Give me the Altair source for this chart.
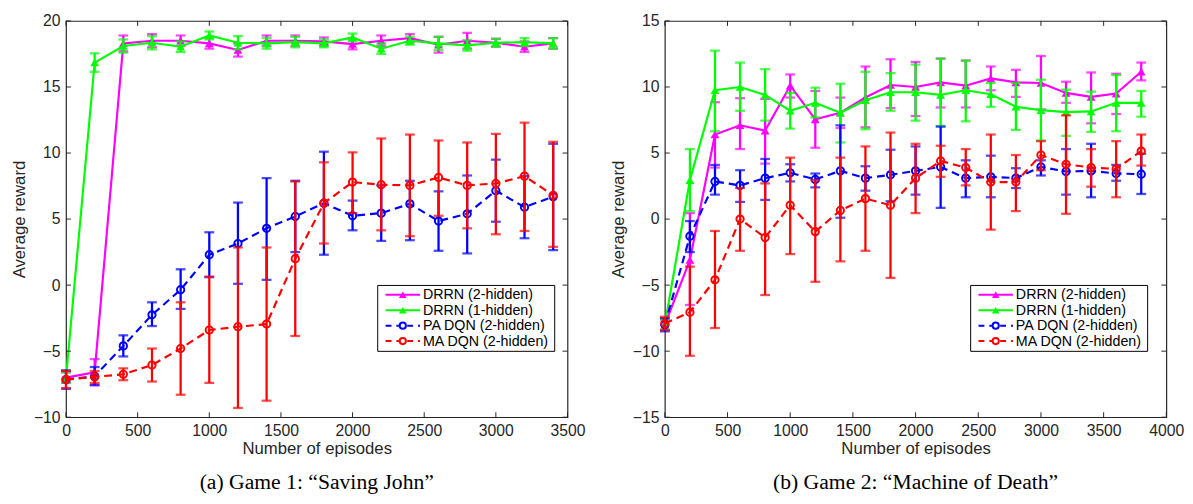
import altair as alt
import pandas as pd

# ---------------- Panel (a): Game 1 "Saving John" ----------------
xa = [0, 200, 400, 600, 800, 1000, 1200, 1400, 1600, 1800, 2000, 2200, 2400, 2600, 2800, 3000, 3200, 3400]

a_drrn2_m = [-7.0, -6.6, 18.3, 18.5, 18.5, 18.3, 17.8, 18.5, 18.5, 18.45, 18.25, 18.5, 18.7, 18.2, 18.5, 18.35, 18.05, 18.3]
a_drrn2_e = [0.4, 1.0, 0.6, 0.5, 0.4, 0.4, 0.5, 0.4, 0.4, 0.3, 0.4, 0.4, 0.3, 0.6, 0.6, 0.3, 0.4, 0.4]

a_drrn1_m = [-7.0, 16.85, 18.1, 18.35, 18.05, 18.9, 18.35, 18.3, 18.4, 18.3, 18.75, 17.9, 18.5, 18.3, 18.15, 18.35, 18.4, 18.3]
a_drrn1_e = [0.4, 0.7, 0.5, 0.5, 0.4, 0.3, 0.5, 0.4, 0.4, 0.3, 0.3, 0.4, 0.3, 0.5, 0.4, 0.3, 0.3, 0.4]

a_pa_m = [-7.15, -6.9, -4.6, -2.25, -0.35, 2.3, 3.15, 4.3, 5.2, 6.2, 5.25, 5.45, 6.15, 4.85, 5.4, 7.15, 5.9, 6.7]
a_pa_lo = [-7.85, -7.55, -5.4, -3.1, -1.8, 0.6, 0.1, 0.4, 2.5, 2.3, 4.15, 3.35, 3.4, 2.6, 2.4, 4.8, 3.55, 2.65]
a_pa_hi = [-6.45, -6.2, -3.8, -1.3, 1.2, 4.0, 6.25, 8.1, 7.9, 10.1, 6.4, 7.55, 7.9, 7.1, 8.3, 9.5, 8.25, 10.7]

a_ma_m = [-7.15, -6.95, -6.75, -6.05, -4.8, -3.4, -3.15, -2.95, 2.0, 6.2, 7.8, 7.6, 7.55, 8.15, 7.55, 7.7, 8.25, 6.8]
a_ma_lo = [-7.8, -7.4, -7.2, -7.3, -8.3, -7.4, -9.3, -8.75, -3.85, 3.15, 5.45, 4.15, 3.7, 5.25, 4.3, 3.85, 4.1, 2.9]
a_ma_hi = [-6.5, -6.5, -6.3, -4.8, -1.3, 0.65, 2.85, 2.85, 7.85, 9.3, 10.05, 11.1, 11.4, 10.95, 10.8, 11.45, 12.3, 10.85]

a_xticks = [0, 500, 1000, 1500, 2000, 2500, 3000, 3500]
a_yticks = [-10, -5, 0, 5, 10, 15, 20]

# ---------------- Panel (b): Game 2 "Machine of Death" ----------------
xb = [0, 200, 400, 600, 800, 1000, 1200, 1400, 1600, 1800, 2000, 2200, 2400, 2600, 2800, 3000, 3200, 3400, 3600, 3800]

b_drrn2_m = [-8.0, -3.1, 6.4, 7.1, 6.7, 10.1, 7.55, 8.05, 9.2, 10.15, 10.0, 10.35, 10.1, 10.65, 10.35, 10.3, 9.55, 9.25, 9.5, 11.15]
b_drrn2_lo = [-8.4, -6.5, 3.9, 5.3, 4.2, 9.2, 5.4, 6.9, 6.95, 8.4, 7.8, 8.45, 8.45, 9.75, 9.25, 8.3, 8.8, 7.25, 7.95, 10.5]
b_drrn2_hi = [-7.6, 0.45, 8.85, 9.15, 9.1, 10.95, 9.7, 9.2, 11.55, 12.1, 11.9, 12.15, 12.0, 11.55, 11.3, 12.35, 10.4, 11.1, 11.0, 11.85]

b_drrn1_m = [-8.0, 2.95, 9.75, 10.0, 9.4, 8.2, 8.8, 8.05, 9.0, 9.6, 9.6, 9.4, 9.75, 9.45, 8.5, 8.25, 8.1, 8.15, 8.8, 8.8]
b_drrn1_lo = [-8.4, 0.6, 6.65, 8.2, 7.45, 6.85, 7.7, 5.8, 6.8, 8.2, 7.45, 7.05, 7.4, 8.5, 6.75, 5.95, 6.3, 6.6, 6.65, 7.75]
b_drrn1_hi = [-7.6, 5.3, 12.75, 11.85, 11.35, 9.55, 9.95, 10.25, 11.15, 11.05, 11.7, 12.15, 12.0, 10.3, 10.3, 10.55, 9.8, 9.65, 10.9, 9.7]

b_pa_m = [-8.0, -1.3, 2.85, 2.55, 3.1, 3.5, 3.0, 3.65, 3.1, 3.35, 3.65, 3.95, 3.1, 3.2, 3.1, 3.95, 3.6, 3.65, 3.45, 3.4]
b_pa_lo = [-8.5, -2.5, 1.85, 1.3, 1.45, 2.85, 2.4, 0.1, 2.15, 1.35, 1.85, 0.85, 1.65, 1.65, 2.35, 3.3, 1.85, 1.65, 2.9, 1.9]
b_pa_hi = [-7.5, -0.15, 4.1, 3.7, 4.55, 4.15, 3.45, 7.1, 4.0, 5.25, 5.5, 7.0, 4.45, 4.8, 3.85, 4.45, 5.3, 5.7, 4.1, 4.95]

b_ma_m = [-7.9, -7.05, -4.6, 0.0, -1.4, 1.05, -0.95, 0.65, 1.55, 1.05, 3.1, 4.4, 3.9, 2.8, 2.8, 4.85, 4.15, 3.9, 3.8, 5.15]
b_ma_lo = [-8.4, -10.35, -8.25, -2.4, -5.75, -2.65, -4.75, -3.2, -2.4, -4.45, 0.45, 3.2, 2.55, -0.8, 0.6, 3.7, 0.4, 2.45, 1.65, 4.05]
b_ma_hi = [-7.4, -3.6, -0.9, 2.35, 2.7, 4.65, 2.95, 4.65, 5.5, 6.55, 5.7, 5.55, 5.3, 6.4, 4.85, 5.9, 7.85, 5.3, 5.9, 6.4]

b_xticks = [0, 500, 1000, 1500, 2000, 2500, 3000, 3500, 4000]
b_yticks = [-15, -10, -5, 0, 5, 10, 15]

names = ["DRRN (2-hidden)", "DRRN (1-hidden)", "PA DQN (2-hidden)", "MA DQN (2-hidden)"]
colors = ["#FF00FF", "#00FF00", "#0000FF", "#FF0000"]
dashes = [None, None, [8, 5], [8, 5]]
shapes = ["triangle-up", "triangle-up", "circle", "circle"]

W, H = 510, 403
FONT = "Liberation Sans"
AXC = "#262626"


def panel(x, series, xdom, ydom, xticks, yticks, caption, leg_x, leg_y):
    xs = alt.Scale(domain=xdom, nice=False, zero=False)
    ys = alt.Scale(domain=ydom, nice=False, zero=False)
    xax = alt.Axis(values=xticks, title="Number of episodes", format="d", labelFlush=False)
    yax = alt.Axis(values=yticks, title="Average reward", format="d")
    layers = []
    for i, (m, lo, hi) in enumerate(series):
        df = pd.DataFrame({"x": x, "m": m, "lo": lo, "hi": hi})
        base = alt.Chart(df)
        X = alt.X("x:Q", scale=xs, axis=xax)
        col = colors[i]
        layers.append(base.mark_rule(color=col, strokeWidth=2.3).encode(
            x=X, y=alt.Y("lo:Q", scale=ys, axis=yax), y2="hi:Q"))
        for f in ("lo", "hi"):
            layers.append(base.mark_tick(color=col, orient="horizontal", size=10, thickness=2.3).encode(
                x=X, y=alt.Y(f + ":Q", scale=ys, axis=yax)))
        lkw = dict(color=col, strokeWidth=2.2)
        if dashes[i]:
            lkw["strokeDash"] = dashes[i]
        layers.append(base.mark_line(**lkw).encode(x=X, y=alt.Y("m:Q", scale=ys, axis=yax)))
        if shapes[i] == "triangle-up":
            pm = base.mark_point(shape="triangle-up", filled=True, size=80, color=col, opacity=1)
        else:
            pm = base.mark_point(shape="circle", filled=False, size=55, strokeWidth=2, color=col, opacity=1)
        layers.append(pm.encode(x=X, y=alt.Y("m:Q", scale=ys, axis=yax)))

    # inward ticks on all four sides
    tx = alt.Chart(pd.DataFrame({"t": xticks}))
    ty = alt.Chart(pd.DataFrame({"t": yticks}))
    tk = dict(color=AXC, strokeWidth=1)
    layers.append(tx.mark_rule(**tk).encode(x=alt.X("t:Q", scale=xs, axis=xax), y=alt.value(H), y2=alt.value(H - 5)))
    layers.append(tx.mark_rule(**tk).encode(x=alt.X("t:Q", scale=xs, axis=xax), y=alt.value(0), y2=alt.value(5)))
    layers.append(ty.mark_rule(**tk).encode(y=alt.Y("t:Q", scale=ys, axis=yax), x=alt.value(0), x2=alt.value(5)))
    layers.append(ty.mark_rule(**tk).encode(y=alt.Y("t:Q", scale=ys, axis=yax), x=alt.value(W), x2=alt.value(W - 5)))

    # legend box
    one = alt.Chart(pd.DataFrame({"k": [0]}))
    layers.append(one.mark_rect(fill="white", stroke="#000000", strokeWidth=1).encode(
        x=alt.value(leg_x), x2=alt.value(leg_x + 180), y=alt.value(leg_y), y2=alt.value(leg_y + 67)))
    for i, nm in enumerate(names):
        cy = leg_y + 9.5 + i * 15.7
        lkw = dict(color=colors[i], strokeWidth=2)
        if dashes[i]:
            lkw["strokeDash"] = [6, 5]
        layers.append(one.mark_rule(**lkw).encode(x=alt.value(leg_x + 8), x2=alt.value(leg_x + 43), y=alt.value(cy)))
        if shapes[i] == "triangle-up":
            pm = one.mark_point(shape="triangle-up", filled=True, size=60, color=colors[i], opacity=1)
        else:
            pm = one.mark_point(shape="circle", filled=True, fill="white", stroke=colors[i], size=40, strokeWidth=2, opacity=1)
        layers.append(pm.encode(x=alt.value(leg_x + 25.5), y=alt.value(cy)))
        layers.append(one.mark_text(text=nm, align="left", baseline="middle", font=FONT, fontSize=14.5, color="#000000").encode(
            x=alt.value(leg_x + 46), y=alt.value(cy + 0.5)))

    return alt.layer(*layers).properties(
        width=W, height=H,
        title=alt.TitleParams(caption, orient="bottom", font="Liberation Serif", fontSize=22,
                              fontWeight="normal", color="#000000", offset=16),
    )


pa = panel(xa, [(a_drrn2_m, [m - e for m, e in zip(a_drrn2_m, a_drrn2_e)], [m + e for m, e in zip(a_drrn2_m, a_drrn2_e)]),
                (a_drrn1_m, [m - e for m, e in zip(a_drrn1_m, a_drrn1_e)], [m + e for m, e in zip(a_drrn1_m, a_drrn1_e)]),
                (a_pa_m, a_pa_lo, a_pa_hi),
                (a_ma_m, a_ma_lo, a_ma_hi)],
           [0, 3500], [-10, 20], a_xticks, a_yticks, "(a)  Game 1: \u201cSaving John\u201d", 317, 269)

pb = panel(xb, [(b_drrn2_m, b_drrn2_lo, b_drrn2_hi),
                (b_drrn1_m, b_drrn1_lo, b_drrn1_hi),
                (b_pa_m, b_pa_lo, b_pa_hi),
                (b_ma_m, b_ma_lo, b_ma_hi)],
           [0, 4000], [-15, 15], b_xticks, b_yticks, "(b)  Game 2: \u201cMachine of Death\u201d", 311, 269)

chart = alt.hconcat(pa, pb, spacing=23).properties(
    padding={"left": 2, "top": 0, "right": 0, "bottom": 0}
).configure_axis(
    labelFont=FONT, labelFontSize=16, labelColor=AXC,
    titleFont=FONT, titleFontSize=17, titleFontWeight="normal", titleColor=AXC,
    grid=False, ticks=False, domain=False, labelPadding=6, titlePadding=5,
).configure_axisX(titlePadding=2).configure_view(stroke=AXC, strokeWidth=1.2)

chart.save("out.html", embed_options={"renderer": "svg", "actions": False})
